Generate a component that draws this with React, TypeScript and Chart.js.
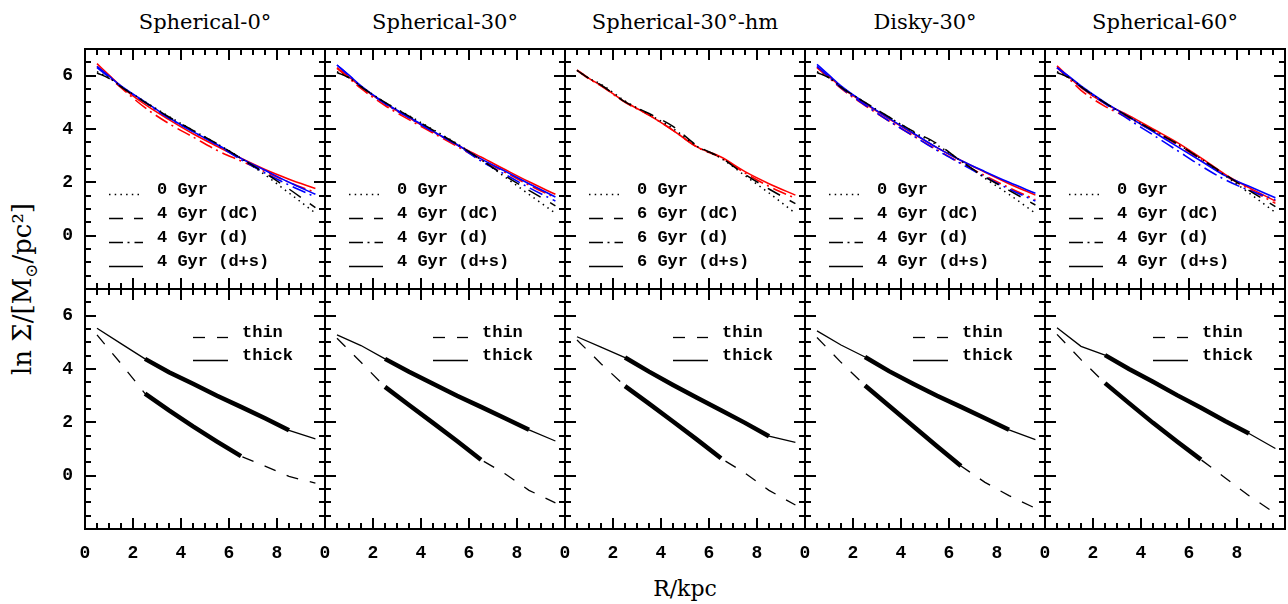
import React, { useEffect, useRef } from "react";
import { Chart, registerables } from "chart.js";

Chart.register(...registerables);

// ---------- text ----------
const PANEL_TITLES = ["Spherical-0°", "Spherical-30°", "Spherical-30°-hm", "Disky-30°", "Spherical-60°"];
const PANEL_AGES = ["4", "4", "6", "4", "4"];
const X_TICK_LABELS = [0, 2, 4, 6, 8];
const Y_TICK_LABELS = [0, 2, 4, 6];

// ---------- top row: R grid and profiles per panel ----------
const R_TOP = [0.5, 1, 1.5, 2.5, 3.5, 4.5, 5.5, 6.5, 7.5, 8.5, 9.6];

const GYR0_DOTTED = [
  [6.15, 5.92, 5.6, 5.02, 4.47, 3.95, 3.45, 2.9, 2.28, 1.6, 0.85],
  [6.15, 5.93, 5.6, 5.0, 4.5, 3.98, 3.45, 2.85, 2.2, 1.55, 0.84],
  [6.2, 5.9, 5.68, 5.05, 4.55, 4.02, 3.35, 2.9, 2.25, 1.6, 0.84],
  [6.15, 5.93, 5.58, 5.0, 4.45, 3.9, 3.4, 2.8, 2.15, 1.55, 0.84],
  [6.15, 5.93, 5.6, 4.98, 4.45, 3.95, 3.45, 2.88, 2.25, 1.6, 0.87],
];
const DC_BLACK = [
  [6.1, 5.9, 5.58, 5.0, 4.45, 3.95, 3.45, 2.9, 2.35, 1.75, 1.05],
  [6.12, 5.92, 5.58, 5.0, 4.48, 3.96, 3.43, 2.85, 2.25, 1.7, 1.12],
  [6.2, 5.9, 5.65, 5.02, 4.58, 4.1, 3.38, 2.92, 2.3, 1.75, 1.2],
  [6.12, 5.92, 5.56, 5.0, 4.45, 3.92, 3.45, 2.8, 2.2, 1.7, 1.15],
  [6.12, 5.92, 5.58, 4.98, 4.45, 3.95, 3.45, 2.88, 2.3, 1.7, 1.09],
];
const D_BLUE = [
  [6.3, 5.95, 5.6, 5.0, 4.4, 3.9, 3.4, 2.85, 2.35, 1.9, 1.45],
  [6.4, 6.0, 5.6, 4.95, 4.42, 3.9, 3.4, 2.8, 2.3, 1.8, 1.3],
  null,
  [6.35, 5.95, 5.55, 4.9, 4.3, 3.75, 3.2, 2.7, 2.2, 1.75, 1.3],
  [6.3, 5.95, 5.58, 4.95, 4.35, 3.78, 3.2, 2.62, 2.1, 1.7, 1.35],
];
const DS_BLUE = [
  [6.35, 5.98, 5.62, 5.02, 4.42, 3.9, 3.42, 2.9, 2.45, 2.0, 1.55],
  [6.4, 6.02, 5.62, 4.98, 4.45, 3.92, 3.42, 2.88, 2.42, 1.95, 1.45],
  null,
  [6.42, 6.02, 5.62, 4.98, 4.4, 3.85, 3.3, 2.82, 2.4, 2.0, 1.59],
  [6.3, 5.97, 5.62, 5.0, 4.45, 3.9, 3.35, 2.8, 2.25, 1.85, 1.42],
];
const D_RED = [
  [6.35, 5.95, 5.55, 4.8, 4.2, 3.7, 3.2, 2.8, 2.4, 2.0, 1.62],
  [6.27, 5.9, 5.52, 4.88, 4.35, 3.85, 3.35, 2.85, 2.38, 1.9, 1.42],
  [6.2, 5.88, 5.62, 5.0, 4.52, 3.95, 3.32, 2.92, 2.35, 1.85, 1.4],
  [6.3, 5.92, 5.52, 4.88, 4.3, 3.75, 3.22, 2.72, 2.25, 1.8, 1.35],
  [6.3, 5.88, 5.45, 4.85, 4.4, 3.92, 3.42, 2.85, 2.25, 1.75, 1.21],
];
const DS_RED = [
  [6.45, 6.02, 5.6, 4.92, 4.35, 3.82, 3.35, 2.9, 2.48, 2.12, 1.77],
  [6.3, 5.95, 5.58, 4.95, 4.42, 3.9, 3.4, 2.95, 2.48, 2.02, 1.55],
  [6.22, 5.9, 5.63, 5.02, 4.52, 3.95, 3.33, 2.95, 2.4, 1.95, 1.52],
  [6.32, 5.97, 5.58, 4.95, 4.38, 3.83, 3.3, 2.82, 2.38, 1.95, 1.52],
  [6.37, 5.95, 5.55, 4.95, 4.5, 4.0, 3.5, 2.92, 2.3, 1.8, 1.3],
];

// ---------- bottom row: thin / thick discs ----------
const R_BOTTOM = [0.5, 1.5, 2.5, 3.5, 4.5, 5.5, 6.5, 7.5, 8.5, 9.6];
const THIN_DISC = [
  [5.28, 4.2, 3.08, 2.45, 1.85, 1.28, 0.73, 0.36, -0.03, -0.28],
  [5.15, 4.25, 3.33, 2.65, 1.98, 1.3, 0.6, 0.07, -0.55, -1.02],
  [5.09, 4.2, 3.36, 2.7, 2.03, 1.35, 0.65, 0.1, -0.55, -1.1],
  [5.18, 4.25, 3.38, 2.62, 1.86, 1.1, 0.36, -0.25, -0.75, -1.22],
  [5.3, 4.35, 3.47, 2.72, 1.98, 1.28, 0.6, -0.08, -0.75, -1.42],
];
const THICK_DISC = [
  [5.53, 4.95, 4.38, 3.88, 3.45, 3.0, 2.58, 2.15, 1.7, 1.38],
  [5.28, 4.88, 4.38, 3.9, 3.45, 3.0, 2.58, 2.15, 1.72, 1.3],
  [5.21, 4.82, 4.43, 3.9, 3.4, 2.92, 2.45, 1.98, 1.48, 1.25],
  [5.43, 4.9, 4.45, 3.92, 3.45, 3.0, 2.58, 2.15, 1.72, 1.35],
  [5.55, 4.85, 4.52, 4.0, 3.52, 3.02, 2.55, 2.05, 1.58, 1.02],
];
const FIT_THIN = [2.5, 6.5];
const FIT_THICK = [2.5, 8.5];

// ---------- axis tick positions ----------
const X_MIN = 0;
const X_MAX = 10;
const Y_MIN = -2;
const Y_MAX = 7;
const MINOR_STEP = 0.5;
const MAJOR_STEP = 2;

// ---------- styles ----------
const DOT = [1.5, 4.2];
const DASH = [14, 11];
const DASHDOT = [14, 4.5, 2, 5];
const THIN_DASH = [12, 12];
const BLUE = "#0000ff";
const RED = "#ff0000";
const MONO = '"Liberation Mono", "DejaVu Sans Mono", monospace';
const SERIF = '"DejaVu Serif", "Liberation Serif", serif';

const PANEL_W = 240;
const PANEL_H = 240;
const ORIGIN_X = 85;
const ORIGIN_Y = 49;
const PAD_L = 60;
const PAD_T = 30;
const PAD_R = 30;
const PAD_B = 50;

function pts(xs: number[], ys: number[]) {
  return xs.map((x, i) => ({ x, y: ys[i] }));
}

function tickValues(min: number, max: number) {
  const out: number[] = [];
  const n = Math.round((max - min) / MINOR_STEP);
  for (let k = 0; k <= n; k++) out.push(min + k * MINOR_STEP);
  return out;
}

function isMajor(v: number) {
  return Math.abs(v / MAJOR_STEP - Math.round(v / MAJOR_STEP)) < 1e-6;
}

function makeConfig(row: number, col: number): any {
  const datasets: any[] = [];
  let legendItems: { dash: number[]; label: string }[] = [];
  if (row === 0) {
    const add = (vals: number[] | null, color: string, dash: number[], width: number) => {
      if (!vals) return;
      datasets.push({
        data: pts(R_TOP, vals),
        borderColor: color,
        borderWidth: width,
        borderDash: dash,
        pointRadius: 0,
        cubicInterpolationMode: "monotone",
        fill: false,
      });
    };
    add(GYR0_DOTTED[col], "#000", DOT, 1.5);
    add(DC_BLACK[col], "#000", DASH, 1.5);
    add(D_BLUE[col], BLUE, DASHDOT, 1.6);
    add(DS_BLUE[col], BLUE, [], 1.6);
    add(D_RED[col], RED, DASHDOT, 1.6);
    add(DS_RED[col], RED, [], 1.6);
    const age = PANEL_AGES[col];
    legendItems = [
      { dash: DOT, label: "0 Gyr" },
      { dash: DASH, label: `${age} Gyr (dC)` },
      { dash: DASHDOT, label: `${age} Gyr (d)` },
      { dash: [], label: `${age} Gyr (d+s)` },
    ];
  } else {
    const thin = pts(R_BOTTOM, THIN_DISC[col]);
    const thick = pts(R_BOTTOM, THICK_DISC[col]);
    datasets.push({ data: thin, borderColor: "#000", borderWidth: 1.3, borderDash: THIN_DASH, pointRadius: 0, tension: 0 });
    datasets.push({ data: thick, borderColor: "#000", borderWidth: 1.3, pointRadius: 0, tension: 0 });
    datasets.push({
      data: thin.filter((p) => p.x >= FIT_THIN[0] && p.x <= FIT_THIN[1]),
      borderColor: "#000", borderWidth: 4.5, pointRadius: 0, tension: 0, borderCapStyle: "butt",
    });
    datasets.push({
      data: thick.filter((p) => p.x >= FIT_THICK[0] && p.x <= FIT_THICK[1]),
      borderColor: "#000", borderWidth: 4.5, pointRadius: 0, tension: 0, borderCapStyle: "butt",
    });
    legendItems = [
      { dash: THIN_DASH, label: "thin" },
      { dash: [], label: "thick" },
    ];
  }

  const tickFont = { family: MONO, size: 18, weight: "bold" as const };
  const xTickVals = tickValues(X_MIN, X_MAX);
  const yTickVals = tickValues(Y_MIN, Y_MAX);

  const framePlugin = {
    id: "frameTicksLegend",
    afterDraw(chart: any) {
      const ctx: CanvasRenderingContext2D = chart.ctx;
      const a = chart.chartArea;
      const xs = chart.scales.x;
      const ys = chart.scales.y;
      const left = a.left, right = a.right, top = a.top, bottom = a.bottom;
      ctx.save();
      ctx.setLineDash([]);
      ctx.fillStyle = "#000000";
      ctx.strokeStyle = "#000000";

      // inward tick marks on all four sides, placed with the chart's own scales
      const TW = 2;
      for (const v of xTickVals) {
        const px = Math.round(xs.getPixelForValue(v));
        const len = isMajor(v) ? 11 : 6;
        ctx.fillRect(px - 1, bottom - len, TW, len);
        ctx.fillRect(px - 1, top, TW, len);
      }
      for (const v of yTickVals) {
        const py = Math.round(ys.getPixelForValue(v));
        const len = isMajor(v) ? 11 : 6;
        ctx.fillRect(left, py - 1, len, TW);
        ctx.fillRect(right - len, py - 1, len, TW);
      }

      ctx.lineWidth = 2;
      ctx.strokeRect(left, top, right - left, bottom - top);

      // legend
      ctx.font = `bold 17px ${MONO}`;
      ctx.textBaseline = "middle";
      ctx.textAlign = "left";
      ctx.lineWidth = 1.3;
      const rows = row === 0 ? [141, 165, 189, 213] : [44, 67];
      const lx0 = row === 0 ? 24 : 108;
      const lx1 = row === 0 ? 58 : 143;
      const tx = row === 0 ? 72 : 157;
      legendItems.forEach((it, i) => {
        const cy = top + rows[i];
        ctx.setLineDash(it.dash);
        ctx.beginPath();
        ctx.moveTo(left + lx0, cy + 4.5);
        ctx.lineTo(left + lx1, cy + 4.5);
        ctx.stroke();
        ctx.setLineDash([]);
        ctx.fillText(it.label, left + tx, cy);
      });
      ctx.restore();
    },
  };

  return {
    type: "line",
    data: { datasets },
    options: {
      responsive: false,
      maintainAspectRatio: false,
      animation: false,
      devicePixelRatio: 1,
      events: [],
      layout: { padding: { left: 0, top: PAD_T, right: PAD_R, bottom: 0 } },
      plugins: { legend: { display: false }, tooltip: { enabled: false }, title: { display: false } },
      scales: {
        x: {
          type: "linear",
          min: X_MIN,
          max: X_MAX,
          grid: { display: false },
          border: { display: false },
          ticks: {
            display: row === 1,
            stepSize: MAJOR_STEP,
            autoSkip: false,
            maxRotation: 0,
            padding: 6,
            color: "#000",
            font: tickFont,
            callback: (v: number) => (X_TICK_LABELS.includes(v) ? String(v) : ""),
          },
          afterFit: (s: any) => { s.height = PAD_B; },
        },
        y: {
          type: "linear",
          min: Y_MIN,
          max: Y_MAX,
          grid: { display: false },
          border: { display: false },
          ticks: {
            display: col === 0,
            stepSize: MAJOR_STEP,
            autoSkip: false,
            padding: 4,
            color: "#000",
            font: tickFont,
            callback: (v: number) => (Y_TICK_LABELS.includes(v) ? String(v) : ""),
          },
          afterFit: (s: any) => { s.width = PAD_L; },
        },
      },
    },
    plugins: [framePlugin],
  };
}

export default function App() {
  const refs = useRef<(HTMLCanvasElement | null)[]>([]);

  useEffect(() => {
    const charts: Chart[] = [];
    for (let row = 0; row < 2; row++) {
      for (let col = 0; col < 5; col++) {
        const el = refs.current[row * 5 + col];
        if (el) charts.push(new Chart(el, makeConfig(row, col)));
      }
    }
    return () => charts.forEach((c) => c.destroy());
  }, []);

  const cw = PAD_L + PANEL_W + PAD_R;
  const ch = PAD_T + PANEL_H + PAD_B;
  const canvases = [];
  for (let row = 0; row < 2; row++) {
    for (let col = 0; col < 5; col++) {
      const idx = row * 5 + col;
      canvases.push(
        <canvas
          key={idx}
          ref={(el) => { refs.current[idx] = el; }}
          width={cw}
          height={ch}
          style={{
            position: "absolute",
            left: ORIGIN_X + PANEL_W * col - PAD_L,
            top: ORIGIN_Y + PANEL_H * row - PAD_T,
            width: cw,
            height: ch,
          }}
        />
      );
    }
  }

  return (
    <div style={{ position: "absolute", left: 0, top: 0, width: 1288, height: 604, background: "#fff", overflow: "hidden" }}>
      {PANEL_TITLES.map((t, i) => (
        <div
          key={t}
          style={{
            position: "absolute",
            left: ORIGIN_X + PANEL_W * i + PANEL_W / 2,
            top: 22,
            transform: "translate(-50%, -50%)",
            fontFamily: SERIF,
            fontSize: 21,
            whiteSpace: "nowrap",
            color: "#000",
          }}
        >
          {t}
        </div>
      ))}
      <div
        style={{
          position: "absolute",
          left: 24,
          top: ORIGIN_Y + PANEL_H,
          transform: "translate(-50%, -50%) rotate(-90deg)",
          fontFamily: SERIF,
          fontSize: 26,
          whiteSpace: "nowrap",
          color: "#000",
        }}
      >
        ln Σ/[M<sub style={{ fontSize: "0.65em" }}>⊙</sub>/pc²]
      </div>
      <div
        style={{
          position: "absolute",
          left: ORIGIN_X + (PANEL_W * 5) / 2,
          top: 588,
          transform: "translate(-50%, -50%)",
          fontFamily: SERIF,
          fontSize: 22,
          whiteSpace: "nowrap",
          color: "#000",
        }}
      >
        R/kpc
      </div>
      {canvases}
    </div>
  );
}
